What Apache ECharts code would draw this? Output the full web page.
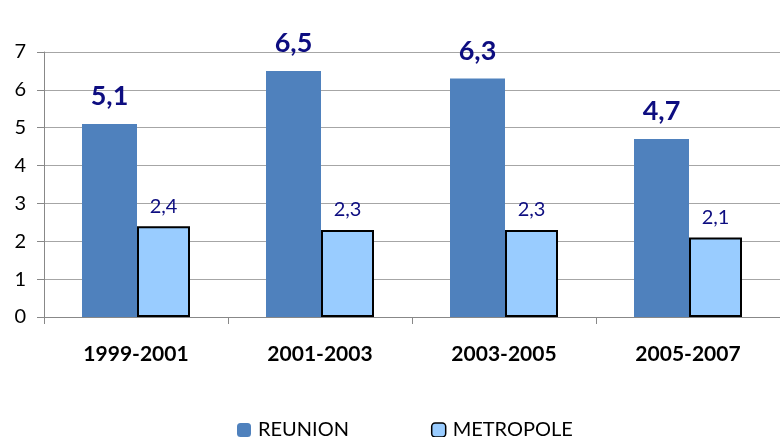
<!DOCTYPE html>
<html>
<head>
<meta charset="utf-8">
<script src="https://cdn.jsdelivr.net/npm/echarts@6/dist/echarts.min.js"></script>
<style>
  html, body { margin: 0; padding: 0; background: #fff; }
  #chart { width: 780px; height: 437px; }
</style>
</head>
<body>
<div id="chart"></div>
<script>
// periodes et valeurs
const periods = ['1999-2001', '2001-2003', '2003-2005', '2005-2007'];
const reunion = [5.1, 6.5, 6.3, 4.7];
const metropole = [2.4, 2.3, 2.3, 2.1];
const yTicks = [0, 1, 2, 3, 4, 5, 6, 7];

const fmt = p => String(p.value).replace('.', ',');
const font = 'Lato, "Open Sans", sans-serif';

const chart = echarts.init(document.getElementById('chart'));
chart.setOption({
  animation: false,
  textStyle: { fontFamily: font },
  grid: { left: 44, top: 52, width: 745, height: 265 },
  legend: {
    top: 415,
    left: 232,
    itemWidth: 14,
    itemHeight: 14,
    itemGap: 82,
    textStyle: { fontSize: 20, color: '#000', fontFamily: font, padding: [0, 0, 0, 2] },
    data: [
      { name: 'REUNION', itemStyle: { color: '#4f81bd', borderWidth: 0 } },
      { name: 'METROPOLE', itemStyle: { color: '#99ccff', borderColor: '#000', borderWidth: 1.5 } }
    ]
  },
  xAxis: {
    type: 'category',
    data: periods,
    axisLine: { lineStyle: { color: '#888' } },
    axisTick: { show: true, length: 7, lineStyle: { color: '#888' } },
    axisLabel: { fontSize: 21, fontWeight: 'bold', color: '#000', margin: 27, fontFamily: font }
  },
  yAxis: {
    type: 'value',
    min: 0,
    max: yTicks[yTicks.length - 1],
    interval: 1,
    axisLine: { show: true, lineStyle: { color: '#888' } },
    axisTick: { show: true, length: 7, lineStyle: { color: '#888' } },
    splitLine: { lineStyle: { color: '#a6a6a6' } },
    axisLabel: { fontSize: 20, color: '#000', margin: 18, fontFamily: font }
  },
  series: [
    {
      name: 'REUNION',
      type: 'bar',
      data: reunion,
      barWidth: 55,
      barGap: '0%',
      itemStyle: { color: '#4f81bd' },
      label: {
        show: true, position: 'top', distance: 14, formatter: fmt,
        fontSize: 27, fontWeight: 'bold', color: '#0d0d80', fontFamily: font
      }
    },
    {
      name: 'METROPOLE',
      type: 'bar',
      data: metropole,
      barWidth: 53,
      itemStyle: { color: '#99ccff', borderColor: '#000', borderWidth: 2 },
      label: {
        show: true, position: 'top', distance: 10, formatter: fmt,
        fontSize: 20, color: '#0d0d80', fontFamily: font
      }
    }
  ]
});
</script>
</body>
</html>
